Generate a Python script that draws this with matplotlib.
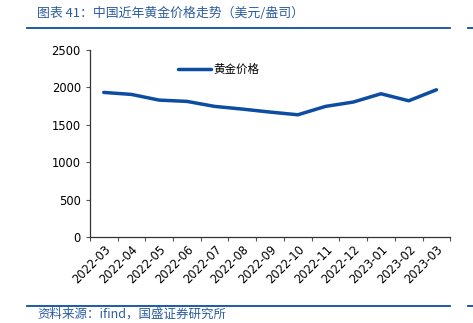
import matplotlib
matplotlib.use("Agg")
import matplotlib.pyplot as plt
from matplotlib.lines import Line2D

plt.rcParams['font.family'] = ['DejaVu Sans', 'Noto Sans CJK SC']

# ── Data ──────────────────────────────────────────────────────────────────────
months = ["2022-03", "2022-04", "2022-05", "2022-06", "2022-07", "2022-08",
          "2022-09", "2022-10", "2022-11", "2022-12", "2023-01", "2023-02",
          "2023-03"]
gold_price = [1934, 1907, 1831, 1814, 1747, 1711, 1671, 1635, 1747, 1805,
              1916, 1822, 1969]
y_ticks = [0, 500, 1000, 1500, 2000, 2500]

TITLE = "图表 41：中国近年黄金价格走势（美元/盎司）"
SOURCE = "资料来源：ifind，国盛证券研究所"
LINE_BLUE = "#0C4DA2"
HEAD_BLUE = "#2B5C9E"

fig = plt.figure(figsize=(4.73, 3.23), dpi=100)
ax = fig.add_axes([0.190, 0.266, 0.762, 0.579])

x = list(range(len(months)))
ax.plot(x, gold_price, color=LINE_BLUE, linewidth=2.5, label="黄金价格",
        solid_capstyle="round")

ax.set_xlim(-0.5, len(months) - 0.5)
ax.set_ylim(0, 2500)
ax.set_yticks(y_ticks)

# category ticks sit between months, labels at centres
ax.set_xticks([i - 0.5 for i in range(len(months) + 1)], minor=False)
ax.set_xticklabels([])
ax.set_xticks(x, minor=True)
ax.set_xticklabels(months, minor=True, rotation=45, ha="right",
                   rotation_mode="anchor", fontsize=8.3)
ax.tick_params(axis="x", which="minor", length=0, pad=4)
ax.tick_params(axis="x", which="major", length=3, direction="out", color="#555555")
ax.tick_params(axis="y", length=3, direction="out", labelsize=8.3, color="#555555")

for side in ("top", "right"):
    ax.spines[side].set_visible(False)
for side in ("left", "bottom"):
    ax.spines[side].set_color("#333333")
    ax.spines[side].set_linewidth(0.9)

ax.legend(loc="upper left", bbox_to_anchor=(0.215, 0.985), frameon=False,
          prop={"family": ["Noto Sans CJK SC"], "size": 8.3},
          handlelength=2.9, handletextpad=0.15)

# header / footer
fig.text(37 / 473, 1 - 13 / 323, TITLE, color=HEAD_BLUE, fontsize=9.3,
         va="center", ha="left", style="italic",
         family=["Noto Sans CJK SC", "DejaVu Sans"])
fig.text(37 / 473, 1 - 314 / 323, SOURCE, color=HEAD_BLUE, fontsize=9,
         va="center", ha="left", style="italic",
         family=["Noto Sans CJK SC", "DejaVu Sans"])

for yy in (27.5, 306):
    fig.add_artist(Line2D([27 / 473, 450 / 473], [1 - yy / 323] * 2,
                          color=LINE_BLUE, linewidth=1.3))
    fig.add_artist(Line2D([468 / 473, 1.0], [1 - yy / 323] * 2,
                          color=LINE_BLUE, linewidth=1.3))

fig.savefig("out.png", dpi=100)
